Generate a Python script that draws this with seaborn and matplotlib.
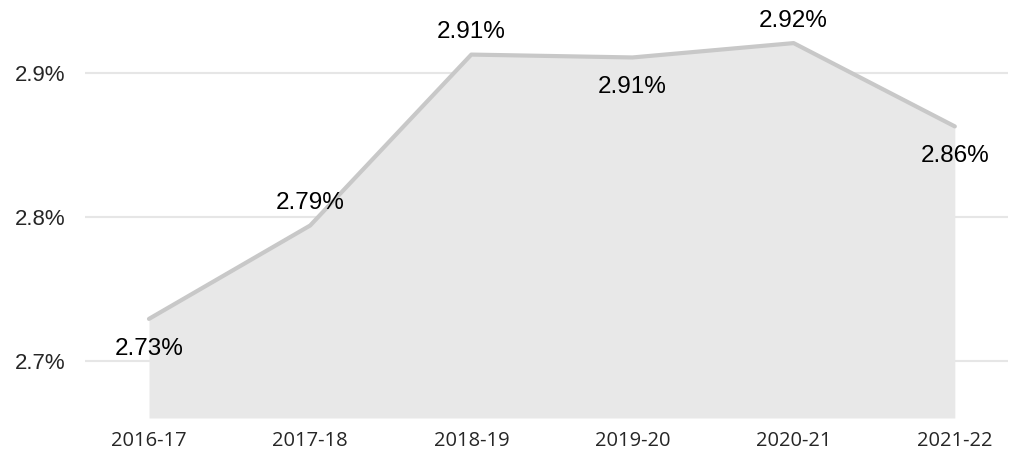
import numpy as np
import matplotlib.pyplot as plt
import seaborn as sns

years = ["2016-17", "2017-18", "2018-19", "2019-20", "2020-21", "2021-22"]
rates = [2.729, 2.794, 2.913, 2.911, 2.921, 2.863]
labels = ["2.73%", "2.79%", "2.91%", "2.91%", "2.92%", "2.86%"]
label_above = [False, True, True, False, True, False]
yticks = [2.7, 2.8, 2.9]

sns.set_style("white")
plt.rcParams['font.family'] = ['Liberation Sans', 'DejaVu Sans']

fig = plt.figure(figsize=(10.11, 4.51), dpi=100)
ax = fig.add_axes([85 / 1011, 33 / 451, (1008 - 85) / 1011, 418 / 451])

x = np.arange(len(years))
ymin, ymax = 2.66, 2.951
ax.fill_between(x, rates, ymin, color="#e8e8e8", lw=0, zorder=1)
sns.lineplot(x=x, y=rates, ax=ax, color="#c8c8c8", lw=3, zorder=3)

for xi, v, lab, up in zip(x, rates, labels, label_above):
    ax.annotate(lab, (xi, v), xytext=(0, 16 if up else -21.5), textcoords="offset points",
                ha="center", va="center", fontsize=17.5, color="black", zorder=4)

ax.set_xlim(-0.397, 5.33)
ax.set_ylim(ymin, ymax)
ax.set_yticks(yticks)
ax.set_yticklabels([f"{t:.1f}%" for t in yticks], fontsize=16)
ax.set_xticks(x)
ax.set_xticklabels(years, fontsize=14.5, family=['Open Sans', 'DejaVu Sans'])
ax.tick_params(axis="y", pad=14, length=0)
ax.tick_params(axis="x", pad=9, length=0)
ax.grid(axis="y", color="#e6e6e6", lw=1.5, zorder=0)
ax.set_axisbelow(True)
sns.despine(ax=ax, left=True, bottom=True)

fig.savefig("out.png", dpi=100)
